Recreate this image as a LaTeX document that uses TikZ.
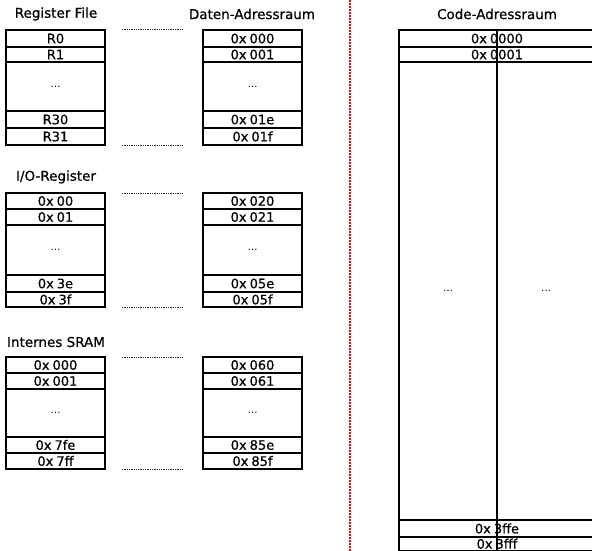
\documentclass[tikz,border=0pt]{standalone}
\usepackage{fontspec}
\setmainfont{DejaVu Sans}
\newfontfamily\semibold{DejaVu Sans}[FakeBold=0.6]
\begin{document}
\begin{tikzpicture}[x=1pt,y=-1pt,
  cell/.style={draw, line width=1.2pt, inner sep=0pt, outer sep=0pt, anchor=north west,
    font=\semibold\fontsize{13}{13}\selectfont},
  dots/.style={cell, font=\fontsize{10}{10}\selectfont},
  title/.style={font=\semibold\fontsize{13.5}{13.5}\selectfont, inner sep=0pt},
  link/.style={dash pattern=on 1.3pt off 1pt, line width=1pt, black!85},
  sepline/.style={dash pattern=on 2pt off 1pt, line width=2pt, red}]
\useasboundingbox (0,0) rectangle (592,551);
\newcommand\mcell[7][cell]{\node[#1, minimum width=#5pt, minimum height=#6pt] (#2) at (#3,#4) {#7};}
% titles
\node[title] (t1) at (56,14) {Register File};
\node[title] (t2) at (252,14) {Daten-Adressraum};
\node[title] (t3) at (56,177) {I/O-Register};
\node[title] (t4) at (56,342) {Internes SRAM};
\node[title] (t5) at (497,14) {Code-Adressraum};
% block 1
\mcell{a0}{6}{30}{99}{17}{R0}
\mcell{a1}{6}{47}{99}{15}{R1}
\mcell[dots]{a2}{6}{62}{99}{49}{…}
\mcell{a3}{6}{111}{99}{17}{R30}
\mcell{a4}{6}{128}{99}{17}{R31}
\mcell{b0}{203}{30}{99}{17}{0x\hspace{3pt}000}
\mcell{b1}{203}{47}{99}{15}{0x\hspace{3pt}001}
\mcell[dots]{b2}{203}{62}{99}{49}{…}
\mcell{b3}{203}{111}{99}{17}{0x\hspace{3pt}01e}
\mcell{b4}{203}{128}{99}{17}{0x\hspace{3pt}01f}
\draw[link, shorten <=17pt, shorten >=19pt] (a0.north east) -- (b0.north west);
\draw[link, shorten <=17pt, shorten >=19pt] (a4.south east) -- (b4.south west);
% block 2
\mcell{c0}{6}{193}{99}{16}{0x\hspace{3pt}00}
\mcell{c1}{6}{209}{99}{16}{0x\hspace{3pt}01}
\mcell[dots]{c2}{6}{225}{99}{50}{…}
\mcell{c3}{6}{275}{99}{17}{0x\hspace{3pt}3e}
\mcell{c4}{6}{292}{99}{15}{0x\hspace{3pt}3f}
\mcell{d0}{203}{193}{99}{16}{0x\hspace{3pt}020}
\mcell{d1}{203}{209}{99}{16}{0x\hspace{3pt}021}
\mcell[dots]{d2}{203}{225}{99}{50}{…}
\mcell{d3}{203}{275}{99}{17}{0x\hspace{3pt}05e}
\mcell{d4}{203}{292}{99}{15}{0x\hspace{3pt}05f}
\draw[link, shorten <=17pt, shorten >=19pt] (c0.north east) -- (d0.north west);
\draw[link, shorten <=17pt, shorten >=19pt] (c4.south east) -- (d4.south west);
% block 3
\mcell{e0}{6}{357}{99}{16}{0x\hspace{3pt}000}
\mcell{e1}{6}{373}{99}{16}{0x\hspace{3pt}001}
\mcell[dots]{e2}{6}{389}{99}{48}{…}
\mcell{e3}{6}{437}{99}{16}{0x\hspace{3pt}7fe}
\mcell{e4}{6}{453}{99}{16}{0x\hspace{3pt}7ff}
\mcell{f0}{203}{357}{99}{16}{0x\hspace{3pt}060}
\mcell{f1}{203}{373}{99}{16}{0x\hspace{3pt}061}
\mcell[dots]{f2}{203}{389}{99}{48}{…}
\mcell{f3}{203}{437}{99}{16}{0x\hspace{3pt}85e}
\mcell{f4}{203}{453}{99}{16}{0x\hspace{3pt}85f}
\draw[link, shorten <=17pt, shorten >=19pt] (e0.north east) -- (f0.north west);
\draw[link, shorten <=17pt, shorten >=19pt] (e4.south east) -- (f4.south west);
% code space
\mcell{g0}{399}{30}{196}{17}{0x\hspace{3pt}0000}
\mcell{g1}{399}{47}{196}{15}{0x\hspace{3pt}0001}
\mcell[dots]{g2}{399}{62}{98}{458}{…}
\mcell[dots]{g3}{497}{62}{98}{458}{…}
\mcell{g4}{399}{520}{196}{17}{0x\hspace{3pt}3ffe}
\mcell{g5}{399}{537}{196}{13.5}{0x\hspace{3pt}3fff}
\draw[line width=1.2pt] (g0.north) -- (g5.south);
% separator
\coordinate (sTop) at (350,0);
\coordinate (sBot) at (350,551);
\draw[sepline] (sTop) -- (sBot);
\end{tikzpicture}
\end{document}
